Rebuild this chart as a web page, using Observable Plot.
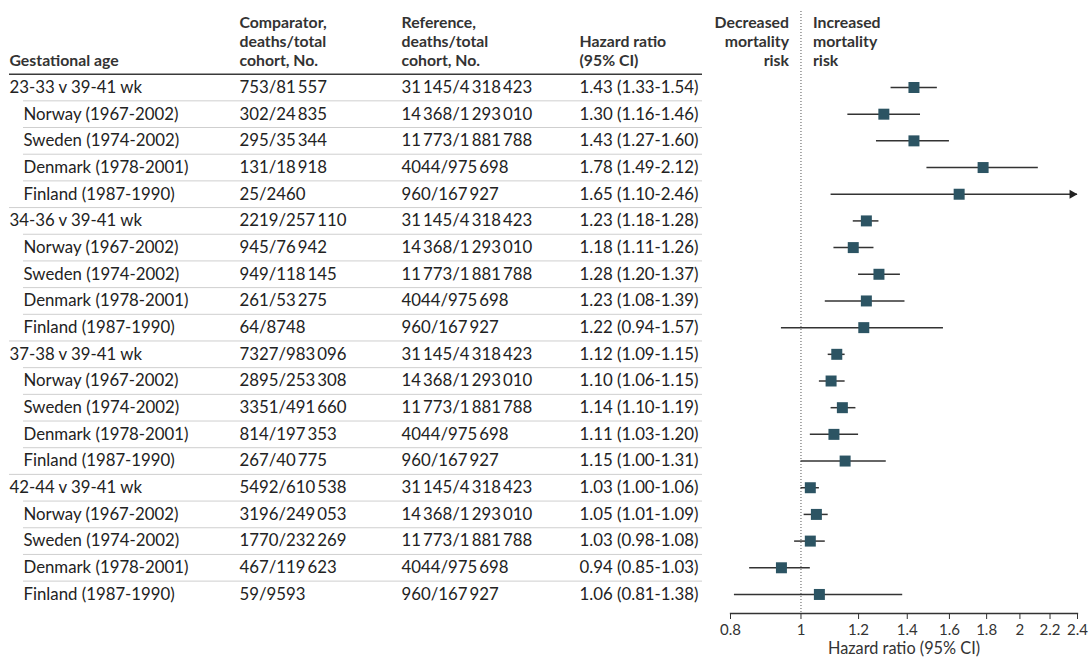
<!DOCTYPE html>
<html>
<head>
<meta charset="utf-8">
<script src="https://cdn.jsdelivr.net/npm/d3@7"></script>
<script src="https://cdn.jsdelivr.net/npm/@observablehq/plot@0.6"></script>
<style>
  html, body { margin: 0; padding: 0; background: #fff; }
  #chart svg { display: block; }
</style>
</head>
<body>
<div id="chart"></div>
<script>
// ---- data ----
const labels = [
  "23-33 v 39-41 wk", "Norway (1967-2002)", "Sweden (1974-2002)", "Denmark (1978-2001)", "Finland (1987-1990)",
  "34-36 v 39-41 wk", "Norway (1967-2002)", "Sweden (1974-2002)", "Denmark (1978-2001)", "Finland (1987-1990)",
  "37-38 v 39-41 wk", "Norway (1967-2002)", "Sweden (1974-2002)", "Denmark (1978-2001)", "Finland (1987-1990)",
  "42-44 v 39-41 wk", "Norway (1967-2002)", "Sweden (1974-2002)", "Denmark (1978-2001)", "Finland (1987-1990)"
];
const isGroup = [true,false,false,false,false, true,false,false,false,false, true,false,false,false,false, true,false,false,false,false];
const T = "\u2009";
const comparator = [
  `753/81${T}557`, `302/24${T}835`, `295/35${T}344`, `131/18${T}918`, `25/2460`,
  `2219/257${T}110`, `945/76${T}942`, `949/118${T}145`, `261/53${T}275`, `64/8748`,
  `7327/983${T}096`, `2895/253${T}308`, `3351/491${T}660`, `814/197${T}353`, `267/40${T}775`,
  `5492/610${T}538`, `3196/249${T}053`, `1770/232${T}269`, `467/119${T}623`, `59/9593`
];
const refAll = `31${T}145/4${T}318${T}423`;
const refNo = `14${T}368/1${T}293${T}010`;
const refSe = `11${T}773/1${T}881${T}788`;
const refDk = `4044/975${T}698`;
const refFi = `960/167${T}927`;
const reference = [
  refAll, refNo, refSe, refDk, refFi,
  refAll, refNo, refSe, refDk, refFi,
  refAll, refNo, refSe, refDk, refFi,
  refAll, refNo, refSe, refDk, refFi
];
const hr    = [1.43, 1.30, 1.43, 1.78, 1.65, 1.23, 1.18, 1.28, 1.23, 1.22, 1.12, 1.10, 1.14, 1.11, 1.15, 1.03, 1.05, 1.03, 0.94, 1.06];
const lower = [1.33, 1.16, 1.27, 1.49, 1.10, 1.18, 1.11, 1.20, 1.08, 0.94, 1.09, 1.06, 1.10, 1.03, 1.00, 1.00, 1.01, 0.98, 0.85, 0.81];
const upper = [1.54, 1.46, 1.60, 2.12, 2.46, 1.28, 1.26, 1.37, 1.39, 1.57, 1.15, 1.15, 1.19, 1.20, 1.31, 1.06, 1.09, 1.08, 1.03, 1.38];
const xTicks = [0.8, 1, 1.2, 1.4, 1.6, 1.8, 2, 2.2, 2.4];
const xDomain = [0.8, 2.4];

const headers = [
  {col: "label", text: "Gestational age"},
  {col: "comp", text: "Comparator,\ndeaths/total\ncohort, No."},
  {col: "ref", text: "Reference,\ndeaths/total\ncohort, No."},
  {col: "hr", text: "Hazard ratio\n(95% CI)"}
];

const rows = labels.map((label, i) => ({
  i, label, group: isGroup[i],
  comp: comparator[i], ref: reference[i],
  hr: hr[i], lo: lower[i], hi: upper[i],
  hrText: `${hr[i].toFixed(2)} (${lower[i].toFixed(2)}-${upper[i].toFixed(2)})`
}));

// ---- layout ----
const W = 1092, H = 664;
const mL = 730, mR = 15, mT = 11, mB = 51;
const colX = {group: 9, country: 23, comp: 239, ref: 401, hr: 579};
const tableRight = 702;
const font = "Lato, 'Open Sans', sans-serif";
const bodySize = 16.8;
const headSize = 15.8;

const off = x => x - mL;

const chart = Plot.plot({
  width: W, height: H,
  marginLeft: mL, marginRight: mR, marginTop: mT, marginBottom: mB,
  style: {fontFamily: font, fontSize: "16px", color: "#222", background: "#fff"},
  x: {type: "log", domain: xDomain},
  y: {type: "linear", domain: [-0.5, 19.5], range: [73.66, 607.3], axis: null},
  marks: [
    // row separators
    Plot.ruleY(rows.filter(d => d.i > 0 && d.group), {y: d => d.i - 0.5, stroke: "#cfcfcf", strokeWidth: 1,
      insetLeft: off(colX.group), insetRight: (W - mR) - tableRight}),
    Plot.ruleY(rows.filter(d => d.i > 0 && !d.group), {y: d => d.i - 0.5, stroke: "#cfcfcf", strokeWidth: 1,
      insetLeft: off(colX.country), insetRight: (W - mR) - tableRight}),
    // header rule
    Plot.ruleY([-0.5], {stroke: "#3a3a3a", strokeWidth: 1.5,
      insetLeft: off(colX.group), insetRight: (W - mR) - tableRight}),
    // header texts
    Plot.text(headers.filter(d => d.col === "label"), {text: "text", frameAnchor: "top-left", dx: off(colX.group), dy: 54,
      textAnchor: "start", lineAnchor: "bottom", fontWeight: "bold", fontSize: headSize, fill: "#333"}),
    Plot.text(headers.filter(d => d.col === "comp"), {text: "text", frameAnchor: "top-left", dx: off(colX.comp), dy: 54,
      textAnchor: "start", lineAnchor: "bottom", lineHeight: 19 / headSize, fontWeight: "bold", fontSize: headSize, fill: "#333"}),
    Plot.text(headers.filter(d => d.col === "ref"), {text: "text", frameAnchor: "top-left", dx: off(colX.ref), dy: 54,
      textAnchor: "start", lineAnchor: "bottom", lineHeight: 19 / headSize, fontWeight: "bold", fontSize: headSize, fill: "#333"}),
    Plot.text(headers.filter(d => d.col === "hr"), {text: "text", frameAnchor: "top-left", dx: off(colX.hr), dy: 54,
      textAnchor: "start", lineAnchor: "bottom", lineHeight: 19 / headSize, fontWeight: "bold", fontSize: headSize, fill: "#333"}),
    Plot.text([{x: 1, t: "Decreased\nmortality\nrisk"}], {x: "x", text: "t", frameAnchor: "top", dx: -12, dy: 54,
      textAnchor: "end", lineAnchor: "bottom", lineHeight: 19 / headSize, fontWeight: "bold", fontSize: headSize, fill: "#333"}),
    Plot.text([{x: 1, t: "Increased\nmortality\nrisk"}], {x: "x", text: "t", frameAnchor: "top", dx: 12, dy: 54,
      textAnchor: "start", lineAnchor: "bottom", lineHeight: 19 / headSize, fontWeight: "bold", fontSize: headSize, fill: "#333"}),
    // table body
    Plot.text(rows.filter(d => d.group), {y: "i", text: "label", frameAnchor: "left", dx: off(colX.group), textAnchor: "start", fontSize: bodySize, fill: "#222"}),
    Plot.text(rows.filter(d => !d.group), {y: "i", text: "label", frameAnchor: "left", dx: off(colX.country), textAnchor: "start", fontSize: bodySize, fill: "#222"}),
    Plot.text(rows, {y: "i", text: "comp", frameAnchor: "left", dx: off(colX.comp), textAnchor: "start", fontSize: bodySize, fill: "#222"}),
    Plot.text(rows, {y: "i", text: "ref", frameAnchor: "left", dx: off(colX.ref), textAnchor: "start", fontSize: bodySize, fill: "#222"}),
    Plot.text(rows, {y: "i", text: "hrText", frameAnchor: "left", dx: off(colX.hr), textAnchor: "start", fontSize: bodySize, fill: "#222"}),
    // reference line at HR = 1
    Plot.ruleX([1], {stroke: "#555", strokeWidth: 1, strokeDasharray: "1,2"}),
    // axis
    Plot.frame({anchor: "bottom", stroke: "#333", strokeWidth: 1.3}),
    Plot.axisX({ticks: xTicks, tickFormat: d => String(d), tickSize: 6, tickPadding: 5, fontSize: 15, label: null, stroke: "#333", color: "#333"}),
    Plot.text(["Hazard ratio (95% CI)"], {text: d => d, frameAnchor: "bottom", dy: 40, fontSize: 16.3, fill: "#333"}),
    // CIs
    Plot.ruleY(rows, {y: "i", x1: "lo", x2: d => Math.min(d.hi, xDomain[1]), stroke: "#333", strokeWidth: 1.5}),
    Plot.dot(rows.filter(d => d.hi > xDomain[1]), {x: d => xDomain[1], y: "i", symbol: "triangle", rotate: 90, r: 3.4, dx: -5.3, fill: "#222", stroke: "none"}),
    // point estimates
    Plot.dot(rows, {x: "hr", y: "i", symbol: "square", r: 6.2, fill: "#2c5463", stroke: "none"})
  ]
});

document.getElementById("chart").append(chart);
</script>
</body>
</html>
